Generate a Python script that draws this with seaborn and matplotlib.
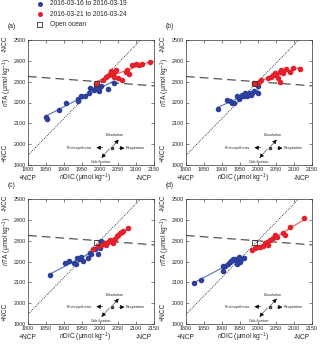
import matplotlib
matplotlib.use("Agg")
import matplotlib.pyplot as plt
import seaborn as sns
import pandas as pd

sns.set_theme(style="white")
plt.rcParams['font.family'] = ['Liberation Sans', 'DejaVu Sans']
plt.rcParams['mathtext.fontset'] = 'custom'
plt.rcParams['mathtext.rm'] = 'Liberation Sans'
plt.rcParams['mathtext.it'] = 'Liberation Sans:italic'

BLUE = "#2b3f9b"
RED = "#e4202a"
BLUE_LINE = "#5c6fc4"
RED_LINE = "#ef5a5a"

# ---- data (nDIC, nTA in umol/kg) ----
a_blue_x = [1851, 1853, 1887, 1906, 1938, 1940, 1947, 1957, 1970, 1972, 1984, 1989, 1998, 2002, 1998, 2021, 2039]
a_blue_y = [2131, 2122, 2166, 2200, 2205, 2216, 2229, 2232, 2245, 2268, 2260, 2276, 2268, 2280, 2253, 2264, 2292]
a_red_x = [1989, 2007, 2016, 2026, 2035, 2039, 2044, 2039, 2049, 2062, 2071, 2080, 2090, 2099, 2108, 2117, 2140, 2076, 2030]
a_red_y = [2289, 2308, 2324, 2332, 2339, 2347, 2355, 2324, 2316, 2308, 2347, 2339, 2379, 2384, 2379, 2387, 2395, 2355, 2350]

b_blue_x = [1888, 1913, 1923, 1927, 1932, 1941, 1946, 1951, 1956, 1960, 1965, 1970, 1975, 1980, 1984, 1999, 2001, 1989]
b_blue_y = [2169, 2210, 2205, 2197, 2200, 2229, 2216, 2226, 2237, 2229, 2245, 2232, 2245, 2237, 2245, 2280, 2245, 2253]
b_red_x = [1989, 1994, 2003, 2008, 2027, 2036, 2046, 2051, 2055, 2060, 2065, 2070, 2079, 2088, 2098, 2117, 2060, 2041]
b_red_y = [2292, 2289, 2300, 2308, 2316, 2324, 2340, 2332, 2316, 2348, 2356, 2340, 2359, 2348, 2364, 2359, 2300, 2332]

c_blue_x = [1861, 1904, 1913, 1928, 1933, 1937, 1942, 1947, 1952, 1966, 1971, 1975, 1985, 1994, 2003, 1999]
c_blue_y = [2137, 2191, 2203, 2195, 2187, 2219, 2211, 2222, 2203, 2216, 2243, 2235, 2259, 2238, 2297, 2266]
c_red_x = [1980, 1994, 2003, 2013, 2022, 2027, 2032, 2041, 2046, 2051, 2055, 2060, 2065, 2077, 2036, 2017]
c_red_y = [2259, 2273, 2278, 2289, 2294, 2305, 2300, 2310, 2321, 2328, 2337, 2341, 2348, 2360, 2289, 2281]

d_blue_x = [1821, 1842, 1903, 1903, 1908, 1917, 1921, 1926, 1931, 1935, 1940, 1942, 1947, 1949, 1954, 1960]
d_blue_y = [2098, 2109, 2180, 2156, 2177, 2188, 2196, 2203, 2211, 2214, 2203, 2188, 2224, 2196, 2211, 2219]
d_red_x = [1982, 1991, 1996, 2005, 2015, 2019, 2024, 2029, 2033, 2043, 2047, 2052, 2070, 2075, 2089, 2127]
d_red_y = [2256, 2264, 2268, 2272, 2275, 2287, 2295, 2279, 2303, 2311, 2327, 2319, 2338, 2327, 2365, 2411]

ocean_x = [1990]
ocean_y = [2290]

# reference lines (endpoints)
calc_x = [1800, 2113]
calc_y = [1947, 2500]
dash_x = [1800, 2150]
dash_y = [2325, 2280]

labels_blue = "2016-03-16 to 2016-03-19"
labels_red = "2016-03-21 to 2016-03-24"

panels = [
    ("(a)", a_blue_x, a_blue_y, a_red_x, a_red_y),
    ("(b)", b_blue_x, b_blue_y, b_red_x, b_red_y),
    ("(c)", c_blue_x, c_blue_y, c_red_x, c_red_y),
    ("(d)", d_blue_x, d_blue_y, d_red_x, d_red_y),
]

fig = plt.figure(figsize=(3.2, 3.45), dpi=100)
W, H = 320, 345
boxes = [(28, 40), (186, 40), (28, 199), (186, 199)]  # left, top in px
aw, ah = 126, 125

fs = 4.8
for (name, bx, by, rx, ry), (l, t) in zip(panels, boxes):
    ax = fig.add_axes([l / W, (H - t - ah) / H, aw / W, ah / H])
    ax.plot(calc_x, calc_y, color="black", ls=(0, (1, 1.5)), lw=0.6, zorder=1)
    ax.plot(dash_x, dash_y, color="#555555", ls=(0, (7, 4)), lw=0.9, zorder=1)
    dfb = pd.DataFrame({"x": bx, "y": by})
    dfr = pd.DataFrame({"x": rx, "y": ry})
    sns.regplot(data=dfb, x="x", y="y", ax=ax, ci=None, color=BLUE, label=labels_blue,
                scatter_kws={"s": 16, "linewidths": 0, "alpha": 1, "zorder": 3},
                line_kws={"color": BLUE_LINE, "lw": 0.8, "zorder": 2})
    sns.regplot(data=dfr, x="x", y="y", ax=ax, ci=None, color=RED, label=labels_red,
                scatter_kws={"s": 16, "linewidths": 0, "alpha": 1, "zorder": 3},
                line_kws={"color": RED_LINE, "lw": 0.8, "zorder": 2})
    ax.scatter(ocean_x, ocean_y, marker="s", s=14, facecolor="none", edgecolor="#333333",
               linewidths=0.6, zorder=4, label="Open ocean")

    ax.set_xlim(1800, 2150)
    ax.set_ylim(1900, 2500)
    ax.set_xticks(range(1800, 2151, 50))
    ax.set_yticks(range(1900, 2501, 100))
    ax.tick_params(direction="in", length=2, width=0.4, labelsize=3.9, pad=1.5,
                   top=True, right=True, bottom=True, left=True,
                   labeltop=False, labelright=False)
    for s in ax.spines.values():
        s.set_linewidth(0.5)
        s.set_color("#333333")
    ax.set_xlabel("")
    ax.set_ylabel("")

    ax.text(-0.13, 1.11, name, transform=ax.transAxes, fontsize=fs, ha="center", va="center")
    ax.text(0.45, -0.105, "$\\it{n}$DIC (μmol kg$^{-1}$)", transform=ax.transAxes,
            fontsize=fs, ha="center", va="center")
    ax.text(0.0, -0.105, "+NCP", transform=ax.transAxes, fontsize=fs, ha="center", va="center")
    ax.text(0.92, -0.105, "-NCP", transform=ax.transAxes, fontsize=fs, ha="center", va="center")
    ax.text(-0.165, 0.66, "$\\it{n}$TA (μmol kg$^{-1}$)", transform=ax.transAxes,
            fontsize=fs, ha="center", va="center", rotation=90)
    ax.text(-0.18, 0.97, "-NCC", transform=ax.transAxes, fontsize=fs, ha="center", va="center", rotation=90)
    ax.text(-0.18, 0.1, "+NCC", transform=ax.transAxes, fontsize=fs, ha="center", va="center", rotation=90)

    # process vector diagram
    cx, cy = 2032, 1983
    ax.plot([cx], [cy], marker="s", ms=1.5, color="#444444", zorder=3)
    ap = dict(arrowstyle="-|>,head_length=0.5,head_width=0.25", lw=0.4, color="black",
              mutation_scale=5, shrinkA=0, shrinkB=0)
    apd = dict(arrowstyle="-|>,head_length=0.5,head_width=0.25", lw=0.4, color="black",
               ls=(0, (2, 1)), mutation_scale=5, shrinkA=0, shrinkB=0)
    ax.annotate("", xy=(1990, cy), xytext=(2008, cy), arrowprops=ap)
    ax.annotate("", xy=(2068, cy - 2), xytext=(2052, cy - 2), arrowprops=ap)
    ax.annotate("", xy=(2052, 2022), xytext=(cx + 3, cy + 6), arrowprops=apd)
    ax.annotate("", xy=(2004, 1934), xytext=(cx - 6, cy - 6), arrowprops=apd)
    ax.text(1979, cy, "Photosynthesis", fontsize=2.7, ha="right", va="center")
    ax.text(2071, cy - 2, "Respiration", fontsize=2.7, ha="left", va="center")
    ax.text(2042, 2032, "Dissolution", fontsize=2.7, ha="center", va="bottom")
    ax.text(2004, 1922, "Calcification", fontsize=2.7, ha="center", va="top")

    if name == "(a)":
        handles, labs = ax.get_legend_handles_labels()

fig.legend(handles, labs, loc="upper left", bbox_to_anchor=(36 / W, 1.0), frameon=False,
           fontsize=fs, handlelength=1.0, handletextpad=1.0, labelspacing=0.5,
           borderpad=0.05, borderaxespad=0, markerscale=0.9)

fig.savefig("out.png", dpi=100)
